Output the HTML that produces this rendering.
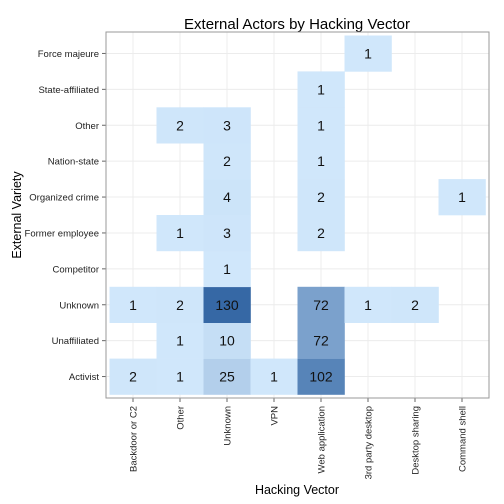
<!DOCTYPE html>
<html><head><meta charset="utf-8"><style>
body{margin:0;background:#fff;font-family:"Liberation Sans",Arial,sans-serif}
svg{display:block}
</style></head><body>
<svg id="chart" width="504" height="504" xmlns="http://www.w3.org/2000/svg">
<rect width="504" height="504" fill="#fff"/>
<text x="297" y="29" text-anchor="middle" font-size="15">External Actors by Hacking Vector</text>
<g id="grid"></g><g id="tiles"></g><g id="labels"></g><g id="axes"></g>
<rect x="106" y="32" width="383" height="366" fill="none" stroke="#9a9a9a" stroke-width="1"/>
<text x="297" y="494" text-anchor="middle" font-size="12.5">Hacking Vector</text>
<text transform="translate(21,215) rotate(-90)" text-anchor="middle" font-size="12.5">External Variety</text>
</svg>
<script>
const xCats=["Backdoor or C2","Other","Unknown","VPN","Web application","3rd party desktop","Desktop sharing","Command shell"];
const yCats=["Activist","Unaffiliated","Unknown","Competitor","Former employee","Organized crime","Nation-state","Other","State-affiliated","Force majeure"];
const cellX=["Backdoor or C2","Other","Unknown","VPN","Web application","Other","Unknown","Web application","Backdoor or C2","Other","Unknown","Web application","3rd party desktop","Desktop sharing","Unknown","Other","Unknown","Web application","Unknown","Web application","Command shell","Unknown","Web application","Other","Unknown","Web application","Web application","3rd party desktop"];
const cellY=["Activist","Activist","Activist","Activist","Activist","Unaffiliated","Unaffiliated","Unaffiliated","Unknown","Unknown","Unknown","Unknown","Unknown","Unknown","Competitor","Former employee","Former employee","Former employee","Organized crime","Organized crime","Organized crime","Nation-state","Nation-state","Other","Other","Other","State-affiliated","Force majeure"];
const cellV=[2,1,25,1,102,1,10,72,1,2,130,72,1,2,1,1,3,2,4,2,1,2,1,2,3,1,1,1];
const NS="http://www.w3.org/2000/svg";
const L=106,R=489,T=32,B=398,pad=3.5;
const cw=(R-L-2*pad)/xCats.length, ch=(B-T-2*pad)/yCats.length;
const xc=c=>L+pad+cw*(xCats.indexOf(c)+0.5);
const yc=c=>B-pad-ch*(yCats.indexOf(c)+0.5);
const vmin=Math.min(...cellV),vmax=Math.max(...cellV);
const lo=[208,231,251],hi=[54,104,165];
function col(v){const t=(v-vmin)/(vmax-vmin);return "rgb("+lo.map((a,i)=>Math.round(a+(hi[i]-a)*t)).join(",")+")";}
function mk(tag,attrs,parent){const e=document.createElementNS(NS,tag);for(const k in attrs)e.setAttribute(k,attrs[k]);document.getElementById(parent).appendChild(e);return e;}
xCats.forEach(c=>{const x=xc(c);
 let g=mk("line",{x1:x,x2:x,y1:T,y2:B,stroke:"#ececec","stroke-width":1},"grid");
 
 
 let tk=mk("line",{x1:x,x2:x,y1:B,y2:B+4,stroke:"#666"},"axes");
 
 
 let t=mk("text",{transform:`translate(${x+3.5},${B+8}) rotate(-90)`,"text-anchor":"end","font-size":"9.5",fill:"#222"},"axes");
 t.textContent=c;
 
 
});
yCats.forEach(c=>{const y=yc(c);
 let g=mk("line",{x1:L,x2:R,y1:y,y2:y,stroke:"#ececec","stroke-width":1},"grid");
 
 
 let tk=mk("line",{x1:L-4,x2:L,y1:y,y2:y,stroke:"#666"},"axes");
 
 
 let t=mk("text",{x:L-7,y:y+3.5,"text-anchor":"end","font-size":"9.5",fill:"#222"},"axes");
 t.textContent=c;
 
 
});
cellV.forEach((v,i)=>{const x=xc(cellX[i]),y=yc(cellY[i]);
 let r=mk("rect",{x:x-cw/2,y:y-ch/2,width:cw+0.3,height:ch+0.3,fill:col(v)},"tiles");
 
 
 let t=mk("text",{x:x,y:y+5,"text-anchor":"middle","font-size":"14",fill:"#111"},"labels");
 t.textContent=v;
 
 
});
</script>
</body></html>
